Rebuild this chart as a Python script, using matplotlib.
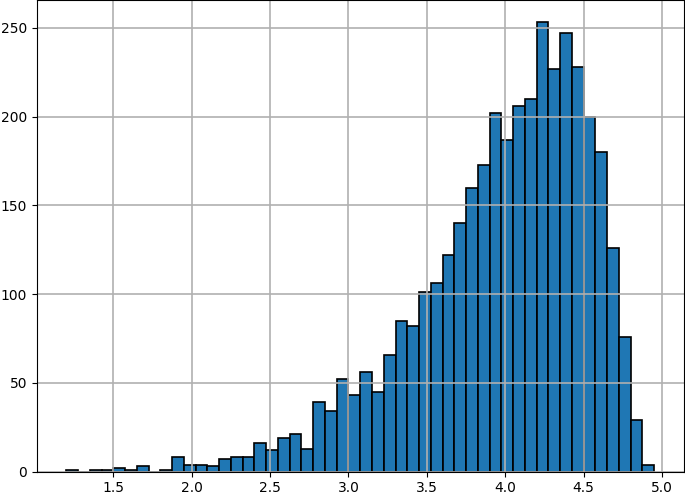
import numpy as np
import matplotlib
matplotlib.use('Agg')
import matplotlib.pyplot as plt

# histogram bins (left edge of first bin, bin width) and counts
bin_start = 1.2
bin_width = 0.075
counts = [1, 0, 1, 1, 2, 1, 3, 0, 1, 8,
          4, 4, 3, 7, 8, 8, 16, 12, 19, 21,
          13, 39, 34, 52, 43, 56, 45, 66, 85, 82,
          101, 106, 122, 140, 160, 173, 202, 187, 206, 210,
          253, 227, 247, 228, 200, 180, 126, 76, 29, 4]

edges = bin_start + bin_width * np.arange(len(counts) + 1)
centers = (edges[:-1] + edges[1:]) / 2

fig = plt.figure(figsize=(6.85, 4.93), dpi=100)
ax = fig.add_axes([37 / 685, 21.3 / 493, 646.5 / 685, 471.7 / 493])

ax.hist(centers, bins=edges, weights=counts, color='#1f77b4',
        edgecolor='black', linewidth=1.2)
ax.grid(True, color='#b0b0b0', linewidth=1.2)
ax.tick_params(labelsize=10)

fig.savefig('out.png', dpi=100)
